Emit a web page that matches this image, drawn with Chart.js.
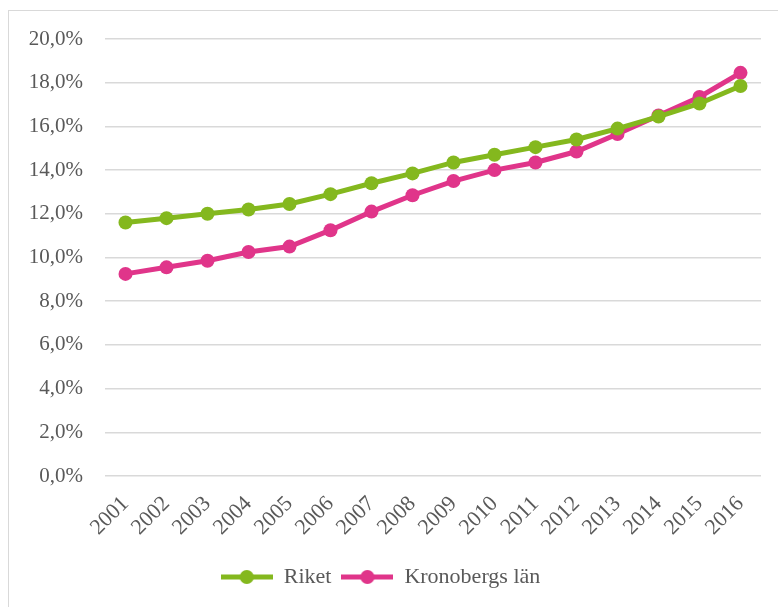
<!DOCTYPE html>
<html>
<head>
  <title>Riket / Kronobergs län</title>
  <script src="https://cdn.jsdelivr.net/npm/chart.js"></script>
  <style>
    body { margin: 0; background: #fff; overflow: hidden; }
    #frame { position: absolute; left: 8px; top: 10px; width: 800px; height: 640px; border: 1px solid #d9d9d9; }
    #chart { position: absolute; left: 0; top: 0; }
  </style>
</head>
<body>
  <div id="frame"></div>
  <canvas id="chart" width="778" height="607"></canvas>
  <script>
    const years = ['2001', '2002', '2003', '2004', '2005', '2006', '2007', '2008',
                   '2009', '2010', '2011', '2012', '2013', '2014', '2015', '2016'];
    const riket = [11.6, 11.8, 12.0, 12.2, 12.45, 12.9, 13.4, 13.85,
                   14.35, 14.7, 15.05, 15.4, 15.9, 16.45, 17.05, 17.85];
    const kronoberg = [9.25, 9.55, 9.85, 10.25, 10.5, 11.25, 12.1, 12.85,
                       13.5, 14.0, 14.35, 14.85, 15.65, 16.5, 17.35, 18.45];

    const green = '#84b81e';
    const pink = '#e0358a';
    const textColor = '#595959';
    const font = 'Liberation Serif';

    // legend marker: short line with a dot in the middle
    function marker(color) {
      const c = document.createElement('canvas');
      c.width = 52; c.height = 16;
      const ctx = c.getContext('2d');
      ctx.strokeStyle = color;
      ctx.lineWidth = 5;
      ctx.beginPath();
      ctx.moveTo(0, 8); ctx.lineTo(52, 8);
      ctx.stroke();
      ctx.fillStyle = color;
      ctx.beginPath();
      ctx.arc(26, 8, 7, 0, Math.PI * 2);
      ctx.fill();
      return c;
    }

    new Chart(document.getElementById('chart'), {
      type: 'line',
      data: {
        labels: years,
        datasets: [{
          label: 'Riket',
          data: riket,
          borderColor: green,
          backgroundColor: green,
          borderWidth: 5,
          pointRadius: 7,
          pointBorderWidth: 0,
          pointStyle: 'circle',
          fill: false
        }, {
          label: 'Kronobergs län',
          data: kronoberg,
          borderColor: pink,
          backgroundColor: pink,
          borderWidth: 5,
          pointRadius: 7,
          pointBorderWidth: 0,
          pointStyle: 'circle',
          fill: false
        }]
      },
      options: {
        responsive: false,
        animation: false,
        layout: { padding: { top: 39, right: 17, bottom: 9, left: 0 } },
        scales: {
          x: {
            offset: true,
            grid: { display: false },
            border: { display: false },
            ticks: {
              color: textColor,
              font: { family: font, size: 22 },
              minRotation: 45,
              maxRotation: 45,
              autoSkip: false,
              padding: 7
            },
            afterFit: s => { s.height = 80; }
          },
          y: {
            min: 0,
            max: 20,
            grid: { color: '#d9d9d9', lineWidth: 1.5, drawTicks: false },
            border: { display: false },
            ticks: {
              stepSize: 2,
              color: textColor,
              font: { family: font, size: 21 },
              padding: 22,
              callback: v => v.toFixed(1).replace('.', ',') + '%'
            },
            afterFit: s => { s.width = 105; }
          }
        },
        plugins: {
          tooltip: { enabled: false },
          legend: {
            position: 'bottom',
            labels: {
              color: textColor,
              font: { family: font, size: 22 },
              usePointStyle: true,
              pointStyleWidth: 52,
              padding: 10,
              generateLabels: chart => chart.data.datasets.map((d, i) => ({
                text: d.label,
                pointStyle: marker(d.borderColor),
                fillStyle: d.borderColor,
                strokeStyle: d.borderColor,
                lineWidth: 0,
                fontColor: textColor,
                datasetIndex: i
              }))
            }
          }
        }
      }
    });
  </script>
</body>
</html>
